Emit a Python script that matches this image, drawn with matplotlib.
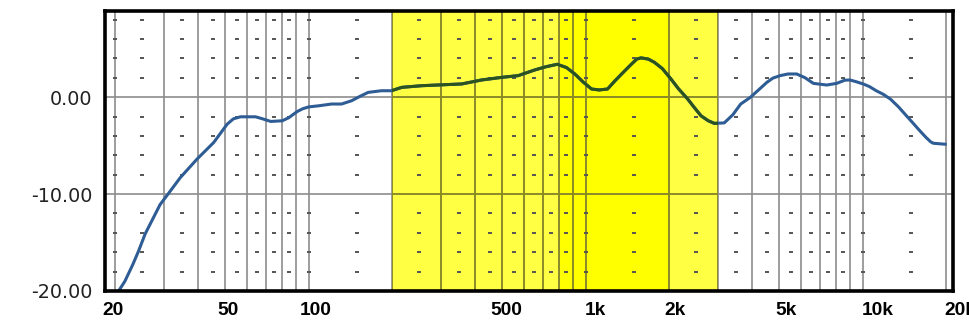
import matplotlib
matplotlib.use('Agg')
import matplotlib.pyplot as plt
import matplotlib.transforms as mtransforms

# Frequency response (Hz, dB)
freq = [20.6, 21.7, 23.2, 24.3, 25.7, 27.5, 29.1, 31.2, 34.4, 39.5, 45.4, 50.8,
        53.5, 56.7, 64.3, 68.2, 73, 80.3, 84.7, 91, 95.2, 100, 109, 121, 131.5,
        143, 151, 164, 183, 199, 217, 256, 357, 421, 498, 571, 656, 720, 790,
        853, 914, 977, 1050, 1120, 1200, 1277, 1349, 1458, 1530, 1585, 1683,
        1772, 1893, 2033, 2163, 2337, 2455, 2611, 2773, 2917, 3165, 3400, 3630,
        3930, 4220, 4510, 4740, 5040, 5380, 5780, 6190, 6640, 7420, 8060, 8630,
        9000, 9480, 10050, 10600, 11200, 11860, 12600, 13460, 14400, 15170,
        16100, 16940, 17600, 18000, 19860]
level = [-20.0, -19.0, -17.25, -15.9, -14.1, -12.45, -11.07, -9.93, -8.3, -6.4,
         -4.68, -2.78, -2.23, -2.02, -2.02, -2.23, -2.5, -2.43, -2.12, -1.47,
         -1.19, -1.0, -0.88, -0.7, -0.7, -0.36, 0.0, 0.5, 0.67, 0.67, 1.02, 1.19,
         1.37, 1.78, 2.05, 2.23, 2.82, 3.15, 3.4, 3.06, 2.4, 1.6, 0.85, 0.75,
         0.85, 1.7, 2.4, 3.37, 3.94, 4.06, 3.94, 3.6, 2.95, 1.88, 0.88, -0.19,
         -0.98, -1.92, -2.43, -2.7, -2.65, -1.81, -0.7, -0.02, 0.78, 1.53, 1.97,
         2.23, 2.4, 2.4, 2.02, 1.43, 1.26, 1.43, 1.76, 1.78, 1.6, 1.37, 1.09,
         0.67, 0.31, -0.19, -0.98, -1.92, -2.64, -3.47, -4.15, -4.6, -4.75,
         -4.85]

# highlighted bands (Hz)
band_outer = (200, 3000)
band_inner = (800, 2000)

x_ticks = [20, 50, 100, 500, 1000, 2000, 5000, 10000, 20000]
x_labels = ['20', '50', '100', '500', '1k', '2k', '5k', '10k', '20k']
x_label_shift = [-2.5, 2.7, 7, 4, 10, 6, 7, 15, 14]   # px
y_ticks = [0, -10, -20]
y_labels = ['0.00', '-10.00', '-20.00']

grid_x = [m * 10 ** e for e in range(1, 5) for m in range(1, 10)]
grid_x = [g for g in grid_x if 20 <= g <= 20000]
dot_x = [20, 25, 35, 45, 55, 65, 75, 85, 100, 150, 250, 350, 450, 550, 650,
         750, 850, 1000, 1500, 2500, 3500, 4500, 5500, 6500, 7500, 8500,
         10000, 15000]
dot_y = [8, 6, 4, 2, -2, -4, -6, -8, -12, -14, -16, -18]

fig = plt.figure(figsize=(9.7, 3.34), dpi=100)
ax = fig.add_axes([105 / 970, 43 / 334, 848 / 970, 280 / 334])
ax.set_xscale('log')
ax.set_xlim(18.4, 21200)
ax.set_ylim(-20, 8.9)

# yellow boxes with a soft drop shadow
def shaded_box(lo, hi, color, z):
    for i in range(1, 7):
        off = mtransforms.ScaledTranslation(i / 100, -i / 100, fig.dpi_scale_trans)
        ax.axvspan(lo, hi, color='black', alpha=0.1, lw=0, zorder=z - 0.01,
                   transform=ax.get_xaxis_transform() + off)
    return ax.axvspan(lo, hi, color=color, lw=0, zorder=z)

outer = shaded_box(*band_outer, '#ffff44', 1.0)
inner = shaded_box(*band_inner, '#ffff00', 1.1)

# grid: gray on white, olive where it crosses the yellow
for col, clip, z in [('#8c8c8c', None, 2.0), ('#8a8a18', outer, 2.1)]:
    for g in grid_x:
        ln = ax.axvline(g, color=col, lw=1.2, zorder=z)
        if clip is not None:
            ln.set_clip_path(clip)
    for h in (0, -10):
        ln = ax.axhline(h, color=col, lw=1.2, zorder=z)
        if clip is not None:
            ln.set_clip_path(clip)

for dx in dot_x:
    ax.plot([dx] * len(dot_y), dot_y, ls='none', marker='_', ms=2.8, mew=1.4,
            color='#555555', zorder=2.5)

ax.plot(freq, level, color='#2e5c94', lw=2.2, zorder=3)
green, = ax.plot(freq, level, color='#2b5320', lw=2.2, zorder=3.1)
green.set_clip_path(outer)

for s in ax.spines.values():
    s.set_linewidth(2.6)
    s.set_color('black')
    s.set_zorder(5)

ax.set_yticks(y_ticks)
ax.set_yticklabels(y_labels, fontsize=13.8, family='DejaVu Sans', color='#222222')
ax.set_xticks(x_ticks)
ax.set_xticklabels(x_labels, fontsize=13.8, family='Liberation Sans', fontweight='bold')
ax.minorticks_off()
ax.tick_params(axis='both', length=0)
ax.tick_params(axis='y', pad=9)
ax.tick_params(axis='x', pad=8)

for lab, sh in zip(ax.get_xticklabels(), x_label_shift):
    lab.set_transform(lab.get_transform() +
                      mtransforms.ScaledTranslation(sh / 100, 0, fig.dpi_scale_trans))

fig.savefig('out.png', dpi=100)
